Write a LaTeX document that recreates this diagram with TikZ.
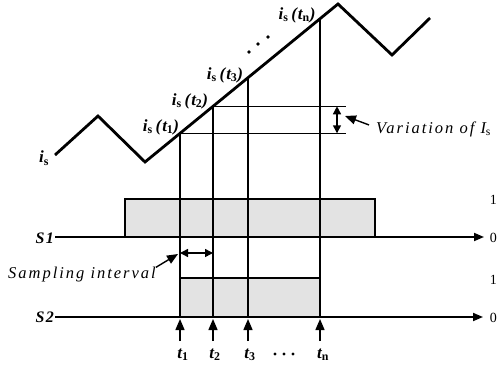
\documentclass[tikz,border=0pt]{standalone}
\usepackage{fontspec}
\setmainfont{Liberation Serif}
\usetikzlibrary{arrows.meta}
\newcommand{\mysub}[1]{\textsubscript{\upshape #1}}
\begin{document}
\begin{tikzpicture}[x=1pt,y=-1pt,
  wave/.style={line width=2.8pt,line join=miter},
  vline/.style={line width=1.4pt},
  base/.style={line width=1.8pt},
  pulse/.style={line width=1.8pt,line join=miter},
  shade/.style={fill=black!11,draw=none},
  tip/.style={-{Triangle[length=10pt,width=8pt]}},
  ttip/.style={-{Triangle[length=11pt,width=9pt]}},
  dtip/.style={{Triangle[length=8pt,width=8pt]}-{Triangle[length=8pt,width=8pt]}},
  lbl/.style={inner sep=0pt,font=\fontsize{16.5}{16}\selectfont\itshape\addfontfeatures{LetterSpace=12}},
  cur/.style={inner sep=0pt,font=\fontsize{17}{17}\selectfont\bfseries\itshape\addfontfeatures{LetterSpace=6}},
  sig/.style={inner sep=0pt,font=\fontsize{16}{16}\selectfont\bfseries\itshape\addfontfeatures{LetterSpace=8}},
  lvl/.style={inner sep=0pt,anchor=east,font=\fontsize{14}{14}\selectfont}]
\useasboundingbox (0,0) rectangle (497,364);
% coordinates
\coordinate (w0) at (55,155);
\coordinate (w1) at (98,116);
\coordinate (w2) at (145,162);
\coordinate (w3) at (338,4);
\coordinate (w4) at (392,55);
\coordinate (w5) at (430,18);
\coordinate (c1) at (180,133.3);
\coordinate (c2) at (213,106.3);
\coordinate (c3) at (248,77.7);
\coordinate (cn) at (320,18.7);
\coordinate (b1) at (180,317);
\coordinate (b2) at (213,317);
\coordinate (b3) at (248,317);
\coordinate (bn) at (320,317);
% shaded pulses
\fill[shade] (125,199) rectangle (375,237);
\fill[shade] (180,278) rectangle (320,317);
% waveform
\draw[wave] (w0) -- (w1) -- (w2) -- (w3) -- (w4) -- (w5);
% sample lines
\draw[vline] (c1) -- (b1);
\draw[vline] (c2) -- (b2);
\draw[vline] (c3) -- (b3);
\draw[vline] (cn) -- (bn);
\coordinate (h1) at (346,133.3);
\coordinate (h2) at (346,106.3);
\draw[vline] (c1) -- (h1);
\draw[vline] (c2) -- (h2);
\coordinate (va) at (337,106.3);
\coordinate (vb) at (337,133.3);
\draw[vline,dtip] (va) -- (vb);
% pulses
\draw[pulse] (125,237) -- (125,199) -- (375,199) -- (375,237);
\draw[pulse] (180,317) -- (180,278) -- (320,278) -- (320,317);
% baselines
\coordinate (s1a) at (55,237);
\coordinate (s1b) at (484,237);
\coordinate (s2a) at (55,317);
\coordinate (s2b) at (483,317);
\draw[base,tip] (s1a) -- (s1b);
\draw[base,tip] (s2a) -- (s2b);
% sampling interval arrow
\coordinate (sa) at (180,253);
\coordinate (sb) at (213,253);
\draw[vline,dtip] (sa) -- (sb);
% labels
\node[cur] (lis) at (44,158) {\textit{i}\mysub{s}};
\node[cur] (l1) at (161,127) {\textit{i}\mysub{s}\,(\textit{t}\mysub{1})};
\node[cur] (l2) at (190,101) {\textit{i}\mysub{s}\,(\textit{t}\mysub{2})};
\node[cur] (l3) at (225,75) {\textit{i}\mysub{s}\,(\textit{t}\mysub{3})};
\node[cur] (ln) at (297,15) {\textit{i}\mysub{s}\,(\textit{t}\mysub{n})};
\fill (249,52) circle (1.8) (258,44) circle (1.8) (268,37) circle (1.8);
\node[lbl,anchor=base west] (var) at (376,133) {Variation of \textit{I}\mysub{s}};
\coordinate (vt) at (345,116);
\draw[vline,ttip] (var.west) ++(-7,-4) coordinate (vs) -- (vt);
\node[lbl,anchor=base west] (samp) at (8,278) {Sampling interval};
\coordinate (st) at (178,254);
\draw[vline,ttip] (samp.north east) ++(0,1) coordinate (ss) -- (st);
\node[sig,anchor=base east] (S1) at (54,243) {S1};
\node[sig,anchor=base east] (S2) at (54,322) {S2};
\node[lvl] (one1) at (497,200) {1};
\node[lvl] (zero1) at (497,238) {0};
\node[lvl] (one2) at (497,280) {1};
\node[lvl] (zero2) at (497,318) {0};
% time arrows
\foreach \x/\n in {180/1,213/2,248/3,320/n}{
  \coordinate (ta\n) at (\x,341);
  \coordinate (tt\n) at (\x,319);
  \draw[vline,ttip] (ta\n) -- (tt\n);
}
\node[cur,anchor=base] (t1) at (183,358) {\textit{t}\mysub{1}};
\node[cur,anchor=base] (t2) at (215,358) {\textit{t}\mysub{2}};
\node[cur,anchor=base] (t3) at (250,358) {\textit{t}\mysub{3}};
\node[cur,anchor=base] (tn) at (323,358) {\textit{t}\mysub{n}};
\fill (275,354) circle (1.6) (284,354) circle (1.6) (293,354) circle (1.6);
\end{tikzpicture}
\end{document}
